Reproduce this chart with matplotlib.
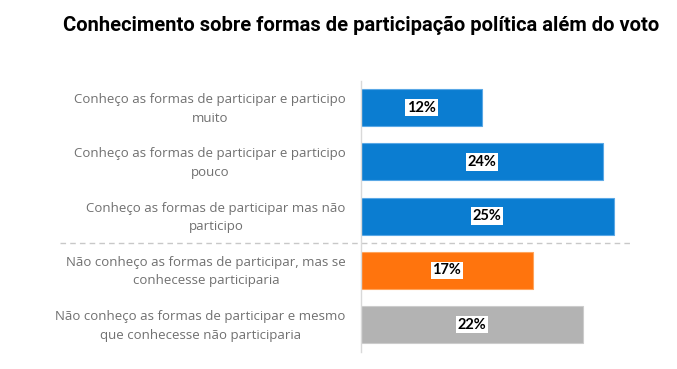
import matplotlib
matplotlib.use("Agg")
import matplotlib.pyplot as plt
import matplotlib.transforms as mtransforms

# data
categories = [
    "Conheço as formas de participar e participo\nmuito",
    "Conheço as formas de participar e participo\npouco",
    "Conheço as formas de participar mas não\nparticipo",
    "Não conheço as formas de participar, mas se\nconhecesse participaria",
    "Não conheço as formas de participar e mesmo\nque conhecesse não participaria",
]
values = [12, 24, 25, 17, 22]
bar_colours = ["#0B7DD1", "#0B7DD1", "#0B7DD1", "#FF740D", "#B3B3B3"]
edge_colours = ["#5AA8E6", "#5AA8E6", "#5AA8E6", "#FFA55C", "#CCCCCC"]
value_labels = ["12%", "24%", "25%", "17%", "22%"]
title = "Conhecimento sobre formas de participação política além do voto"

W, H = 677, 369
fig = plt.figure(figsize=(W / 100, H / 100), dpi=100)
fig.patch.set_facecolor("white")

# axes placed in pixel terms
left, right, top, bottom = 361, 640, 80.5, 351.75
ax = fig.add_axes([left / W, 1 - bottom / H, (right - left) / W, (bottom - top) / H])

y = list(range(len(values)))
ax.barh(y, values, height=0.68, color=bar_colours, edgecolor=edge_colours, linewidth=0.8)

ax.set_xlim(0, (right - left) / 10.1)
ax.set_ylim(len(values) - 0.5, -0.5)

for yi, v, lab in zip(y, values, value_labels):
    ax.text(v / 2, yi, lab, ha="center", va="center", fontsize=10.5,
            fontweight="bold", family="Lato", color="black",
            bbox=dict(boxstyle="square,pad=0.12", facecolor="white", edgecolor="none"))

ax.set_yticks(y)
ax.set_yticklabels(categories, fontsize=9.5, family="Open Sans", color="#707070",
                   multialignment="center", linespacing=1.55)
ax.tick_params(axis="y", length=0, pad=11)
ax.tick_params(axis="x", bottom=False, labelbottom=False)
# nudge tick labels up a little
shift = mtransforms.ScaledTranslation(0, 3 / 100, fig.dpi_scale_trans)
for lbl in ax.get_yticklabels():
    lbl.set_transform(lbl.get_transform() + shift)

for side in ["top", "right", "bottom"]:
    ax.spines[side].set_visible(False)
ax.spines["left"].set_color("#D9D9D9")
ax.spines["left"].set_linewidth(1)

# separator between groups
ax_w = right - left
ax.axhline(2.5, xmin=(60 - left) / ax_w, xmax=(632 - left) / ax_w,
           color="#C8C8C8", linestyle=(0, (4, 3)), linewidth=1, clip_on=False)

# title, fitted to the reference width
t = fig.text(361 / W, 1 - 25 / H, title, ha="center", va="center", fontsize=16,
             fontweight="bold", family="Roboto", color="black")
fig.canvas.draw()
wpx = t.get_window_extent().width
t.set_fontsize(min(16 * 598 / wpx, 19))

fig.savefig("out.png", dpi=100)
